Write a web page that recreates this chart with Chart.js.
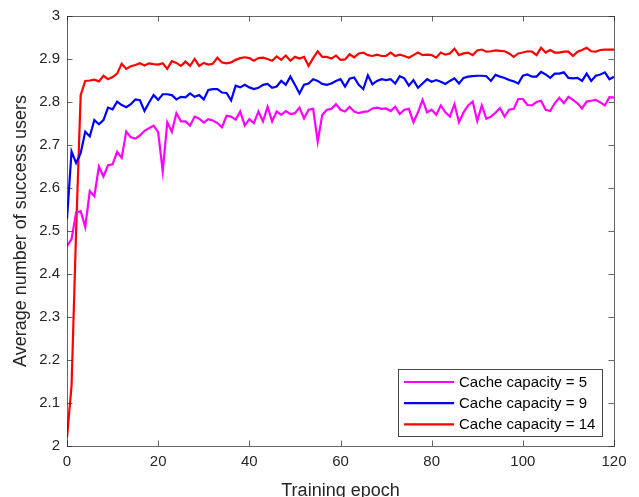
<!DOCTYPE html>
<html>
<head>
<meta charset="utf-8">
<script src="https://cdn.jsdelivr.net/npm/chart.js@4.4.1/dist/chart.umd.min.js"></script>
<style>
  html, body { margin: 0; padding: 0; background: #fff; }
  #c { display: block; }
</style>
</head>
<body>
<canvas id="c" width="639" height="497"></canvas>
<script>
// values, one per training epoch (0..120)
var seriesLabels = ['Cache capacity = 5', 'Cache capacity = 9', 'Cache capacity = 14'];
var seriesColors = ['#ff00ff', '#0000ff', '#ff0000'];

var cap5 = [
  2.465, 2.481, 2.543, 2.546, 2.509, 2.593, 2.581, 2.65, 2.627, 2.653,
  2.655, 2.684, 2.67, 2.731, 2.718, 2.715, 2.722, 2.733, 2.739, 2.745,
  2.73, 2.639, 2.753, 2.731, 2.774, 2.755, 2.755, 2.745, 2.766, 2.761,
  2.752, 2.76, 2.757, 2.751, 2.741, 2.768, 2.766, 2.759, 2.778, 2.745,
  2.76, 2.751, 2.778, 2.755, 2.789, 2.755, 2.778, 2.77, 2.779, 2.772,
  2.774, 2.787, 2.762, 2.782, 2.784, 2.708, 2.77, 2.782, 2.784, 2.795,
  2.782, 2.778, 2.789, 2.778, 2.774, 2.777, 2.778, 2.785, 2.787, 2.784,
  2.785, 2.779, 2.789, 2.772, 2.782, 2.784, 2.753, 2.776, 2.805, 2.776,
  2.782, 2.77, 2.792, 2.776, 2.766, 2.795, 2.753, 2.776, 2.792, 2.801,
  2.756, 2.792, 2.761, 2.766, 2.775, 2.786, 2.766, 2.782, 2.784, 2.807,
  2.807, 2.793, 2.792, 2.8, 2.803, 2.782, 2.779, 2.797, 2.81, 2.797,
  2.812, 2.805, 2.797, 2.785, 2.801, 2.803, 2.805, 2.799, 2.792, 2.811, 2.81
];
var cap9 = [
  2.528, 2.685, 2.658, 2.681, 2.731, 2.72, 2.758, 2.748, 2.758, 2.787,
  2.783, 2.801, 2.793, 2.788, 2.795, 2.806, 2.804, 2.779, 2.799, 2.816,
  2.805, 2.818, 2.818, 2.816, 2.806, 2.812, 2.811, 2.82, 2.812, 2.816,
  2.806, 2.828, 2.83, 2.83, 2.822, 2.821, 2.804, 2.838, 2.834, 2.84,
  2.834, 2.83, 2.833, 2.84, 2.842, 2.833, 2.836, 2.849, 2.84, 2.859,
  2.84, 2.82, 2.84, 2.843, 2.853, 2.849, 2.842, 2.84, 2.843, 2.849,
  2.853, 2.836, 2.854, 2.857, 2.84, 2.83, 2.862, 2.841, 2.849, 2.853,
  2.851, 2.853, 2.843, 2.86, 2.855, 2.838, 2.851, 2.833, 2.843, 2.853,
  2.847, 2.851, 2.847, 2.842, 2.849, 2.855, 2.843, 2.856, 2.859, 2.86,
  2.861, 2.861, 2.86, 2.849, 2.863, 2.859, 2.856, 2.851, 2.848, 2.843,
  2.861, 2.864, 2.859, 2.859, 2.87, 2.864, 2.856, 2.866, 2.866, 2.869,
  2.856, 2.855, 2.856, 2.849, 2.866, 2.849, 2.861, 2.864, 2.869, 2.853, 2.859
];
var cap14 = [
  2.02, 2.14, 2.5, 2.816, 2.849, 2.85, 2.852, 2.848, 2.861, 2.853,
  2.858, 2.866, 2.889, 2.877, 2.883, 2.886, 2.89, 2.885, 2.89, 2.888,
  2.887, 2.89, 2.877, 2.895, 2.891, 2.884, 2.894, 2.884, 2.9, 2.884,
  2.891, 2.887, 2.889, 2.903, 2.892, 2.89, 2.892, 2.898, 2.902, 2.904,
  2.902, 2.896, 2.902, 2.903, 2.9, 2.896, 2.906, 2.898, 2.908, 2.896,
  2.905, 2.901, 2.905, 2.884, 2.902, 2.918, 2.905, 2.905, 2.901, 2.908,
  2.898, 2.899, 2.911, 2.904, 2.913, 2.915, 2.909, 2.907, 2.91, 2.907,
  2.907, 2.915, 2.907, 2.91, 2.907, 2.903, 2.909, 2.915, 2.909, 2.91,
  2.909, 2.903, 2.915, 2.91, 2.913, 2.924, 2.909, 2.913, 2.915, 2.909,
  2.92, 2.922, 2.917, 2.918, 2.92, 2.919, 2.918, 2.913, 2.905, 2.913,
  2.915, 2.918, 2.917, 2.909, 2.926, 2.915, 2.921, 2.915, 2.915, 2.917,
  2.917, 2.907, 2.917, 2.921, 2.926, 2.918, 2.917, 2.921, 2.922, 2.922, 2.922
];

var xTickLabels = ['0', '20', '40', '60', '80', '100', '120'];
var yTickLabels = ['2', '2.1', '2.2', '2.3', '2.4', '2.5', '2.6', '2.7', '2.8', '2.9', '3'];

var fontFamily = "'Liberation Sans', Arial, Helvetica, sans-serif";
var textColor = '#262626';
var axisColor = 'rgba(38, 38, 38, 0.7)';

function toPoints(values) {
    return values.map(function (v, i) { return {x: i, y: v}; });
}

// matlab style box with inward ticks on all sides, plus legend inside the axes
var matlabAxes = {
    id: 'matlabAxes',
    afterDatasetsDraw: function (chart) {
        var ctx = chart.ctx;
        var a = chart.chartArea;
        var xs = chart.scales.x;
        var ys = chart.scales.y;
        var tick = 5.5;

        ctx.save();
        ctx.strokeStyle = axisColor;
        ctx.lineWidth = 1;
        ctx.strokeRect(Math.round(a.left) + 0.5, Math.round(a.top) + 0.5,
            Math.round(a.right - a.left), Math.round(a.bottom - a.top));

        ctx.beginPath();
        xs.ticks.forEach(function (t) {
            var px = Math.round(xs.getPixelForValue(t.value)) + 0.5;
            ctx.moveTo(px, a.bottom);
            ctx.lineTo(px, a.bottom - tick);
            ctx.moveTo(px, a.top);
            ctx.lineTo(px, a.top + tick);
        });
        ys.ticks.forEach(function (t) {
            var py = Math.round(ys.getPixelForValue(t.value)) + 0.5;
            ctx.moveTo(a.left, py);
            ctx.lineTo(a.left + tick, py);
            ctx.moveTo(a.right, py);
            ctx.lineTo(a.right - tick, py);
        });
        ctx.stroke();

        // legend
        var boxW = 204, boxH = 67;
        var bx = Math.round(a.right) - 12 - boxW;
        var by = Math.round(a.bottom) - 10 - boxH;
        ctx.fillStyle = '#ffffff';
        ctx.fillRect(bx, by, boxW, boxH);
        ctx.strokeStyle = 'rgba(38, 38, 38, 0.85)';
        ctx.strokeRect(bx + 0.5, by + 0.5, boxW, boxH);

        ctx.font = '15px ' + fontFamily;
        ctx.textBaseline = 'middle';
        ctx.textAlign = 'left';
        chart.data.datasets.forEach(function (ds, i) {
            var rowY = by + 13 + i * 21.2;
            ctx.strokeStyle = ds.borderColor;
            ctx.lineWidth = 2.2;
            ctx.beginPath();
            ctx.moveTo(bx + 6, rowY);
            ctx.lineTo(bx + 56, rowY);
            ctx.stroke();
            ctx.fillStyle = '#000000';
            ctx.fillText(ds.label, bx + 61, rowY + 0.5);
        });
        ctx.restore();
    }
};

var datasets = [cap5, cap9, cap14].map(function (values, i) {
    return {
        label: seriesLabels[i],
        data: toPoints(values),
        borderColor: seriesColors[i],
        backgroundColor: seriesColors[i],
        borderWidth: 2.2,
        pointRadius: 0,
        tension: 0,
        fill: false
    };
});

var lineChart = new Chart(document.getElementById('c'), {
    type: 'line',
    data: { datasets: datasets },
    plugins: [matlabAxes],
    options: {
        responsive: false,
        animation: false,
        devicePixelRatio: 1,
        layout: { padding: { left: 0, right: 25, top: 14, bottom: 0 } },
        plugins: {
            legend: { display: false },
            tooltip: { enabled: false }
        },
        scales: {
            x: {
                type: 'linear',
                min: 0,
                max: 120,
                afterFit: function (scale) { scale.height = 51; },
                afterBuildTicks: function (scale) {
                    scale.ticks = xTickLabels.map(function (l) { return {value: parseFloat(l)}; });
                },
                grid: { display: false, drawTicks: false },
                border: { display: false },
                ticks: {
                    padding: 7,
                    maxRotation: 0,
                    color: textColor,
                    font: { family: fontFamily, size: 15 },
                    callback: function (v, i) { return xTickLabels[i]; }
                },
                title: {
                    display: true,
                    text: 'Training epoch',
                    color: textColor,
                    font: { family: fontFamily, size: 18 },
                    padding: { top: 0, bottom: -5 }
                }
            },
            y: {
                type: 'linear',
                min: 2,
                max: 3,
                afterFit: function (scale) { scale.width = 67; },
                afterBuildTicks: function (scale) {
                    scale.ticks = yTickLabels.map(function (l) { return {value: parseFloat(l)}; });
                },
                grid: { display: false, drawTicks: false },
                border: { display: false },
                ticks: {
                    padding: 7,
                    color: textColor,
                    font: { family: fontFamily, size: 15 },
                    callback: function (v, i) { return yTickLabels[i]; }
                },
                title: {
                    display: true,
                    text: 'Average number of success users',
                    color: textColor,
                    font: { family: fontFamily, size: 18 },
                    padding: { top: 10, bottom: 0 }
                }
            }
        }
    }
});
</script>
</body>
</html>
